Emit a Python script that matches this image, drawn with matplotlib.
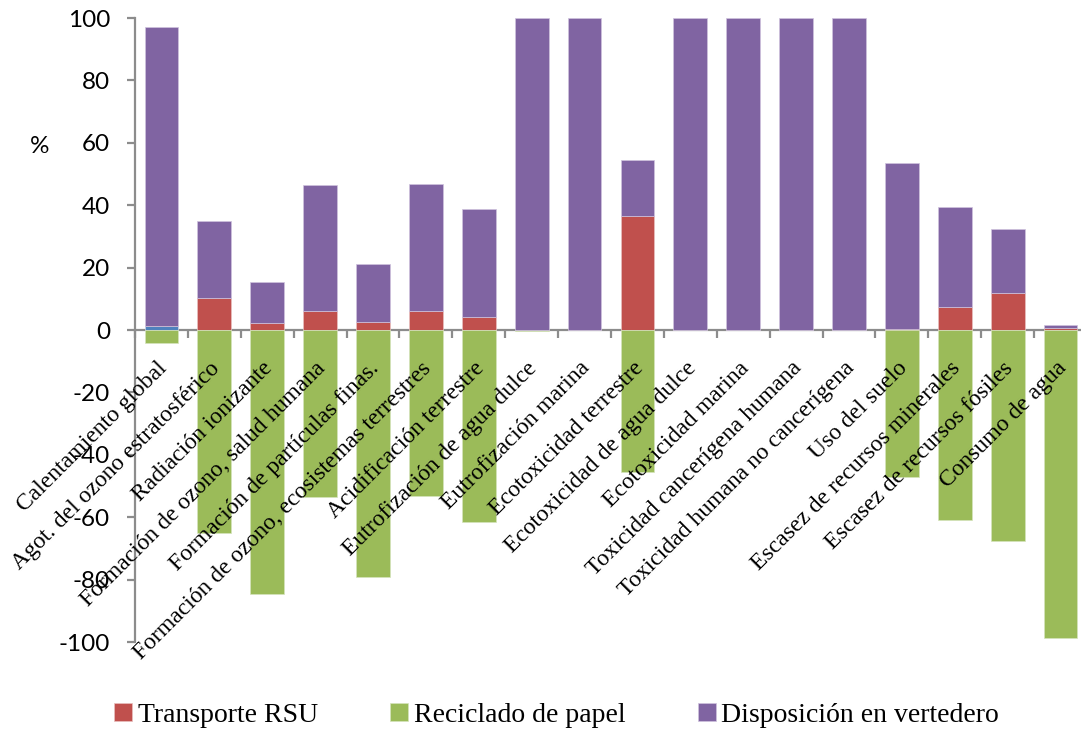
import numpy as np
import matplotlib
matplotlib.use("Agg")
import matplotlib.pyplot as plt

categories = [
    "Calentamiento global",
    "Agot. del ozono estratosférico",
    "Radiación ionizante",
    "Formación de ozono, salud humana",
    "Formación de partículas finas.",
    "Formación de ozono, ecosistemas terrestres",
    "Acidificación terrestre",
    "Eutrofización de agua dulce",
    "Eutrofización marina",
    "Ecotoxicidad terrestre",
    "Ecotoxicidad de agua dulce",
    "Ecotoxicidad marina",
    "Toxicidad cancerígena humana",
    "Toxicidad humana no cancerígena",
    "Uso del suelo",
    "Escasez de recursos minerales",
    "Escasez de recursos fósiles",
    "Consumo de agua",
]

# contributions (%) per stage
recoleccion = [1.2, 0, 0, 0, 0, 0, 0, 0, 0, 0, 0, 0, 0, 0, 0, 0, 0, 0]
transporte = [0, 10.3, 2.2, 6.1, 2.6, 6.1, 4.2, 0, 0, 36.5, 0, 0, 0, 0, 0.2, 7.4, 11.9, 0.6]
reciclado = [-4.2, -65.0, -84.6, -53.5, -79.2, -53.2, -61.5, -0.3, 0, -45.5,
             0, 0, 0, 0, -47.1, -60.9, -67.6, -98.7]
vertedero = [95.9, 24.6, 13.2, 40.4, 18.6, 40.7, 34.6, 100, 100, 18.0,
             100, 100, 100, 100, 53.3, 32.0, 20.5, 1.0]

series_labels = ["Transporte RSU", "Reciclado de papel", "Disposición en vertedero"]
yticks = [-100, -80, -60, -40, -20, 0, 20, 40, 60, 80, 100]

c_blue = "#4F81BD"
c_red = "#C0504D"
c_green = "#9BBB59"
c_purple = "#8064A2"

fig = plt.figure(figsize=(10.81, 7.33), dpi=100)
ax = fig.add_axes([0.1249, 0.1241, 0.8806, 0.8513])

x = np.arange(len(categories))
w = 0.64
rec = np.array(recoleccion)
tra = np.array(transporte)
ver = np.array(vertedero)
rci = np.array(reciclado)

ax.bar(x, rec, w, color=c_blue, edgecolor="#c9d6ea", linewidth=0.5)
b_t = ax.bar(x, tra, w, bottom=rec, color=c_red, edgecolor="#e8c0bf", linewidth=0.5)
b_r = ax.bar(x, rci, w, color=c_green, edgecolor="#d6e4bd", linewidth=0.5)
b_v = ax.bar(x, ver, w, bottom=rec + tra, color=c_purple, edgecolor="#cfc3dd", linewidth=0.5)

ax.set_xlim(-0.5, len(categories) - 0.5)
ax.set_ylim(-100, 100)

for s in ["top", "right"]:
    ax.spines[s].set_visible(False)
ax.spines["bottom"].set_position(("data", 0))
ax.spines["bottom"].set_color("#8c8c8c")
ax.spines["left"].set_color("#8c8c8c")
ax.spines["bottom"].set_linewidth(1.6)
ax.spines["left"].set_linewidth(1.6)
ax.spines["bottom"].set_zorder(0.5)

ax.set_yticks(yticks)
ax.set_yticklabels([str(v) for v in yticks], fontsize=17.5, family="Lato")
ax.tick_params(axis="y", direction="out", length=6, width=1.6, color="#8c8c8c", pad=12)

ax.set_xticks(np.arange(-0.5, len(categories), 1.0))
ax.set_xticklabels([])
ax.tick_params(axis="x", direction="out", length=6, width=1.6, color="#8c8c8c")

for i, lab in enumerate(categories):
    ax.text(i + 0.12, -12.5, lab, rotation=45, rotation_mode="anchor",
            ha="right", va="baseline", fontsize=17, family="Liberation Serif")

fig.text(0.037, 0.80, "%", fontsize=17.5, family="Lato", ha="center", va="center")

fig.legend([b_t, b_r, b_v], series_labels, loc="center", bbox_to_anchor=(0.515, 0.024),
           ncol=3, frameon=False, handlelength=0.65, handleheight=0.65, handletextpad=0.2,
           columnspacing=2.6, prop={"family": "Liberation Serif", "size": 20})

fig.savefig("out.png", dpi=100)
